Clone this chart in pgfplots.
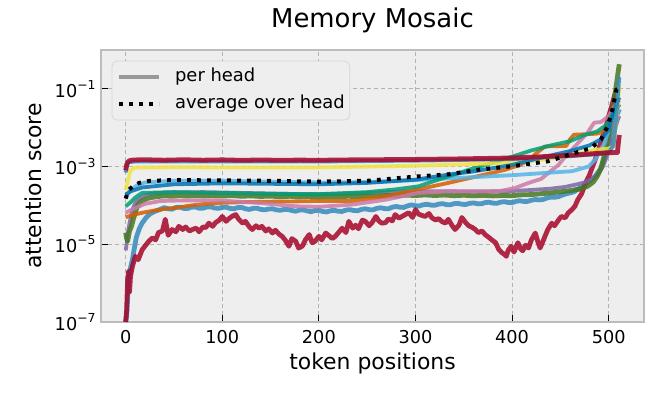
\documentclass[border=0pt]{standalone}
\usepackage{fontspec}
\setmainfont{DejaVu Sans}
\usepackage{pgfplots}
\pgfplotsset{compat=1.18}

\definecolor{bmhBg}{HTML}{EEEEEE}
\definecolor{bmhEdge}{HTML}{BCBCBC}
\definecolor{bmhGrid}{HTML}{B2B2B2}
\definecolor{legEdge}{HTML}{D6D6D6}
\definecolor{legGray}{HTML}{999999}
\definecolor{c0}{HTML}{348ABD}
\definecolor{c1}{HTML}{A60628}
\definecolor{c2}{HTML}{7A68A6}
\definecolor{c3}{HTML}{467821}
\definecolor{c4}{HTML}{D55E00}
\definecolor{c5}{HTML}{CC79A7}
\definecolor{c6}{HTML}{56B4E9}
\definecolor{c7}{HTML}{009E73}
\definecolor{c8}{HTML}{F0E442}
\definecolor{c9}{HTML}{0072B2}

\pgfplotsset{
    head/.style={line width=1.9bp, line join=round, opacity=0.85, forget plot},
    noisy/.style={line width=2.4bp},
    avg/.style={black, line width=2bp, dash pattern=on 1.9bp off 3.1bp, forget plot},
}

\begin{document}
\begin{tikzpicture}
\begin{axis}[
    name=ax,
    scale only axis,
    width=271.5bp, height=136bp,
    xmin=-25.55, xmax=536.55,
    ymode=log, ymin=1e-7, ymax=1,
    xtick={0,100,...,500},
    ytick={1e-7,1e-5,1e-3,1e-1},
    yticklabels={10\textsuperscript{−7},10\textsuperscript{−5},10\textsuperscript{−3},10\textsuperscript{−1}},
    yminorticks=false,
    axis background/.style={fill=bmhBg},
    axis line style={bmhEdge, line width=0.6bp},
    grid=major,
    major grid style={bmhGrid, line width=0.5bp, dash pattern=on 2bp off 1.5bp},
    tick align=inside,
    xtick pos=bottom, ytick pos=left,
    major tick length=3.3bp,
    tick style={black, line width=0.5bp},
    ticklabel style={font=\fontsize{8.9}{10}\selectfont},
    /pgf/number format/assume math mode=true,
    xticklabel style={anchor=base, yshift=-10.5bp},
    yticklabel style={inner xsep=0pt, xshift=-2bp},
    xlabel={token positions},
    xlabel style={font=\fontsize{11}{13}\selectfont, at={(axis description cs:0.5,-0.1728)}, anchor=base},
    ylabel={attention score},
    ylabel style={font=\fontsize{11}{13}\selectfont, at={(axis description cs:-0.1252,0.5)}, anchor=center},
    title={Memory Mosaic},
    title style={font=\fontsize{13}{15}\selectfont, at={(axis description cs:0.5,1.0393)}, anchor=base},
    legend style={at={(0.0197,0.9607)}, anchor=north west, fill=bmhBg, draw=legEdge,
        rounded corners=2.5bp, font=\fontsize{9}{10}\selectfont,
        inner xsep=2.5bp, inner ysep=3.6bp, row sep=4.3bp,
        nodes={inner sep=0pt, text height=6.8bp, text depth=2.2bp},
        /tikz/every odd column/.append style={column sep=7bp},
        cells={anchor=west}},
    legend image code/.code={\draw[#1] (0bp,0bp) -- (20bp,0bp);},
]
% head 0 (steel blue, noisy, low)
\addplot[head, noisy, c0] coordinates {
(0,1e-7)(1,1.5e-7)(2,4e-7)(3,1.3e-6)(5,2.5e-6)(7,4e-6)(9,8e-6)(11,1.5e-5)(14,2.5e-5)(17,3.5e-5)
(21,4.8e-5)(25,6e-5)(30,7e-5)(35,7.8e-5)(40,8.8e-5)(44,8.2e-5)(48,8.0e-5)(52,8.9e-5)(56,9.0e-5)
(60,8.4e-5)(64,8.3e-5)(68,9.0e-5)(72,9.1e-5)(76,8.5e-5)(80,8.5e-5)(84,9.1e-5)(88,9.2e-5)(92,8.6e-5)
(96,8.4e-5)(100,8.9e-5)(104,9.0e-5)(108,8.4e-5)(112,8.2e-5)(116,8.8e-5)(120,8.9e-5)(124,8.2e-5)
(128,7.9e-5)(132,8.4e-5)(136,8.5e-5)(140,7.9e-5)(144,7.7e-5)(148,8.1e-5)(152,8.2e-5)(156,7.7e-5)
(160,7.5e-5)(164,7.9e-5)(168,7.9e-5)(172,7.4e-5)(176,7.1e-5)(180,7.6e-5)(184,7.7e-5)(188,7.2e-5)
(192,6.9e-5)(196,7.4e-5)(200,7.5e-5)(204,7.0e-5)(208,6.8e-5)(212,7.3e-5)(216,7.5e-5)(220,7.1e-5)
(224,7.0e-5)(228,7.6e-5)(232,7.8e-5)(236,7.4e-5)(240,7.3e-5)(244,7.9e-5)(248,8.2e-5)(252,7.8e-5)
(256,7.7e-5)(260,8.4e-5)(264,8.7e-5)(268,8.3e-5)(272,8.2e-5)(276,9.0e-5)(280,9.4e-5)(284,9.0e-5)
(288,8.9e-5)(292,9.8e-5)(296,1.03e-4)(300,9.8e-5)(304,9.7e-5)(308,1.04e-4)(312,1.07e-4)(316,1.02e-4)
(320,1.01e-4)(324,1.08e-4)(328,1.11e-4)(332,1.05e-4)(336,1.04e-4)(340,1.11e-4)(344,1.13e-4)
(348,1.07e-4)(352,1.06e-4)(356,1.13e-4)(360,1.16e-4)(364,1.11e-4)(368,1.1e-4)(372,1.18e-4)
(376,1.21e-4)(380,1.15e-4)(384,1.13e-4)(388,1.21e-4)(392,1.25e-4)(396,1.19e-4)(400,1.18e-4)
(404,1.27e-4)(408,1.32e-4)(412,1.27e-4)(416,1.27e-4)(420,1.36e-4)(424,1.42e-4)(428,1.39e-4)
(432,1.42e-4)(436,1.55e-4)(440,1.64e-4)(444,1.62e-4)(448,1.68e-4)(452,1.85e-4)(456,2.0e-4)
(460,2.1e-4)(464,2.25e-4)(468,2.6e-4)(472,3.0e-4)(476,3.5e-4)(480,4.2e-4)(486,5.6e-4)(492,9e-4)
(497,2e-3)(501,4e-3)(505,1e-2)(508,2e-2)(511,3e-2)
};
% head 1 (crimson, noisy, lowest)
\addplot[head, noisy, c1] coordinates {
(0,1e-7)(1,2e-7)(2,1.2e-6)(3,2e-6)(4,6e-7)(5,1.5e-6)(7,2.7e-6)(10,4.9e-6)(13,4e-6)(17,7.2e-6)
(20,9e-6)(24,1.2e-5)(27.5,1.45e-5)(31,1.3e-5)(34,2e-5)(38,2.2e-5)(41,4.4e-5)(44,1.7e-5)(48,2.4e-5)
(52,2.1e-5)(55,2.9e-5)(59,2.4e-5)(62,2.8e-5)(66,2.2e-5)(69,2.4e-5)(73,2.6e-5)(76,2.1e-5)(80,2.8e-5)
(83,2.7e-5)(86,3.5e-5)(90,2.9e-5)(93,3.6e-5)(97,4.2e-5)(100,5.2e-5)(104,3.9e-5)(107,4.6e-5)
(111,5.4e-5)(114,5.8e-5)(117,4.4e-5)(121,3.5e-5)(124,3.9e-5)(128,2.8e-5)(131,2.4e-5)(135,3.0e-5)
(138,2.6e-5)(141,2.9e-5)(145,2.2e-5)(148,2.5e-5)(152,1.95e-5)(155,2.3e-5)(159,1.8e-5)(162,1.6e-5)
(165,1.3e-5)(169,8.9e-6)(172,1.4e-5)(176,1.2e-5)(179,8e-6)(183,9e-6)(186,1.3e-5)(190,1.78e-5)
(193,1.1e-5)(196,1.2e-5)(200,1.6e-5)(203,1.3e-5)(207,1.95e-5)(210,1.7e-5)(214,1.4e-5)(217,1.6e-5)
(221,2.1e-5)(224,2.6e-5)(228,2.0e-5)(231,3.9e-5)(235,2.6e-5)(238,3.1e-5)(241,2.5e-5)(245,4.2e-5)
(248,3.9e-5)(252,3.0e-5)(255,3.6e-5)(259,5.2e-5)(262,4.0e-5)(265,3.5e-5)(269,3.6e-5)(272,4.5e-5)
(276,4.0e-5)(279,5.8e-5)(283,4.7e-5)(286,5.2e-5)(290,5.9e-5)(293,6.5e-5)(297,4.9e-5)(300,7.8e-5)
(303,6.0e-5)(307,5.5e-5)(310,5.2e-5)(314,6.2e-5)(317,4.8e-5)(321,4.2e-5)(324,4.6e-5)(327,3.9e-5)
(331,3.5e-5)(334,4.4e-5)(338,3.0e-5)(341,2.4e-5)(345,3.1e-5)(348,4.9e-5)(352,3.6e-5)(355,3.0e-5)
(359,2.7e-5)(362,2.4e-5)(365,2.0e-5)(369,2.2e-5)(372,1.78e-5)(376,1.5e-5)(379,1.3e-5)(383,1.1e-5)
(386,7.5e-6)(389,6.2e-6)(392,5.5e-6)(394,4.9e-6)(396,7e-6)(399,8.9e-6)(402,6.3e-6)(406,1.1e-5)
(409,7.5e-6)(411,6.8e-6)(414,9.5e-6)(417,8e-6)(420,1.3e-5)(424,1.95e-5)(427,1.1e-5)(429,8e-6)
(432,1.2e-5)(434,1.6e-5)(437,2.4e-5)(441,3.5e-5)(444,3.0e-5)(448,4.2e-5)(451,5.2e-5)(455,4.8e-5)
(458,6.4e-5)(462,7.8e-5)(465,9.5e-5)(468,1.4e-4)(472,2e-4)(476,3.8e-4)(480,6e-4)(486,1.5e-3)
(490,3e-3)(493,5e-3)(497,1e-2)(500,2e-2)(503,3.5e-2)(505,5.4e-2)(507,8e-2)(511,0.1)
};
% head 2 (purple)
\addplot[head, c2] coordinates {
(0,7e-6)(1,1e-5)(2,1.8e-5)(4,3.5e-5)(6,6e-5)(8,9e-5)(10,1.15e-4)(13,1.4e-4)(16,1.6e-4)(20,1.8e-4)
(25,1.95e-4)(30,2.05e-4)(40,2.15e-4)(50,2.2e-4)(60,2.18e-4)(80,2.2e-4)(100,2.15e-4)(120,2.1e-4)
(140,2.05e-4)(160,2.0e-4)(180,1.95e-4)(200,1.95e-4)(220,1.98e-4)(240,2.05e-4)(260,2.15e-4)
(280,2.25e-4)(300,2.3e-4)(320,2.32e-4)(340,2.3e-4)(360,2.28e-4)(380,2.3e-4)(400,2.35e-4)
(420,2.5e-4)(440,2.7e-4)(455,3.0e-4)(465,3.4e-4)(475,3.9e-4)(483,4.8e-4)(489,6.5e-4)(494,1e-3)
(498,1.8e-3)(502,3.5e-3)(506,8e-3)(509,1.5e-2)(511,2e-2)
};
% head 3 (green)
\addplot[head, noisy, c3] coordinates {
(0,2e-5)(1,1.4e-5)(2,1.2e-5)(4,2.2e-5)(6,2.9e-5)(8,4.5e-5)(10,6.5e-5)(12,9.5e-5)(14,1.15e-4)
(17,1.3e-4)(20,1.42e-4)(24,1.55e-4)(28,1.62e-4)(34,1.7e-4)(40,1.76e-4)(48,1.72e-4)(56,1.8e-4)
(64,1.75e-4)(72,1.82e-4)(80,1.76e-4)(90,1.8e-4)(100,1.74e-4)(110,1.79e-4)(120,1.72e-4)(130,1.76e-4)
(140,1.7e-4)(150,1.74e-4)(160,1.67e-4)(170,1.72e-4)(180,1.66e-4)(190,1.7e-4)(200,1.65e-4)
(210,1.7e-4)(220,1.66e-4)(230,1.72e-4)(240,1.69e-4)(250,1.76e-4)(260,1.74e-4)(270,1.8e-4)
(280,1.76e-4)(290,1.84e-4)(300,1.8e-4)(310,1.86e-4)(320,1.8e-4)(330,1.85e-4)(340,1.78e-4)
(350,1.83e-4)(360,1.77e-4)(370,1.82e-4)(380,1.76e-4)(390,1.8e-4)(400,1.78e-4)(410,1.88e-4)
(420,1.9e-4)(430,2.0e-4)(440,2.1e-4)(450,2.25e-4)(460,2.4e-4)(470,2.65e-4)(478,3.1e-4)(484,4e-4)
(488,5.5e-4)(492,9e-4)(496,2.2e-3)(499,5e-3)(502,1.3e-2)(505,4e-2)(508,1.3e-1)(510,3e-1)(511,4.3e-1)
};
% head 4 (orange)
\addplot[head, c4] coordinates {
(0,5e-5)(5,5.4e-5)(10,5.9e-5)(20,6.7e-5)(30,7.4e-5)(40,8.1e-5)(52,8.7e-5)(65,9.8e-5)(80,1.08e-4)
(100,1.17e-4)(125,1.22e-4)(150,1.25e-4)(175,1.27e-4)(200,1.3e-4)(234,1.3e-4)(269,1.7e-4)(303,2.6e-4)
(334,3.8e-4)(358,5.2e-4)(375,6.5e-4)(393,8.3e-4)(408,1.1e-3)(418,1.5e-3)(426,2.3e-3)(434,3.3e-3)
(456,3.4e-3)(460,5e-3)(464,6.6e-3)(487,7e-3)(497,8e-3)(503,1.2e-2)(507,2.5e-2)(511,4e-2)
};
% head 5 (pink)
\addplot[head, c5] coordinates {
(0,6.5e-5)(5,7.5e-5)(12,9e-5)(20,1.1e-4)(36,1.3e-4)(60,1.35e-4)(96,1.35e-4)(140,1.15e-4)(176,9.5e-5)
(200,9.2e-5)(234,1.05e-4)(269,1.4e-4)(303,2.1e-4)(334,2.3e-4)(386,2.3e-4)(403,2.8e-4)(417,3.8e-4)
(430,4.8e-4)(441,8e-4)(448,1.1e-3)(455,1.8e-3)(466,3.5e-3)(478,7.4e-3)(485,1.35e-2)(492,1.4e-2)
(500,2e-2)(506,3.5e-2)(511,5e-2)
};
% head 6 (light blue)
\addplot[head, c6] coordinates {
(0,1.6e-4)(5,2.5e-4)(12,3.3e-4)(20,3.9e-4)(50,4.3e-4)(100,4.3e-4)(150,4.1e-4)(200,3.9e-4)(250,4.0e-4)
(300,4.5e-4)(350,5.2e-4)(400,6e-4)(440,7e-4)(462,7.6e-4)(479,1e-3)(486,1.5e-3)(496,4.2e-3)
(501,1.1e-2)(505,2e-2)(509,2.5e-2)(511,3e-2)
};
% head 7 (teal)
\addplot[head, c7] coordinates {
(0,9.5e-5)(5,1.2e-4)(10,1.6e-4)(17,2.1e-4)(50,2.2e-4)(100,2.1e-4)(150,2e-4)(200,1.95e-4)(250,2.2e-4)
(280,2.6e-4)(303,3.1e-4)(334,5.6e-4)(360,9e-4)(380,1.25e-3)(400,1.8e-3)(420,2.6e-3)(440,3.5e-3)
(460,4.5e-3)(475,6.5e-3)(488,8e-3)(498,1.2e-2)(505,2.5e-2)(511,4e-2)
};
% head 8 (yellow)
\addplot[head, c8] coordinates {
(0,2.5e-4)(2,4e-4)(5,8e-4)(10,9.4e-4)(50,9.6e-4)(100,9.5e-4)(200,9.5e-4)(300,1.05e-3)(400,1.25e-3)
(450,1.7e-3)(486,2.7e-3)(500,2.9e-3)(505,3.3e-3)(507,1e-2)(509,3e-2)(511,0.12)
};
% head 9 (dark blue)
\addplot[head, c9] coordinates {
(0,1.9e-4)(5,2.3e-4)(17,2.9e-4)(50,3.5e-4)(100,3.7e-4)(150,3.6e-4)(200,3.5e-4)(250,3.8e-4)(300,4.6e-4)
(334,6.2e-4)(360,7.5e-4)(400,1.1e-3)(430,1.7e-3)(460,2.5e-3)(480,3.5e-3)(492,5e-3)(500,9e-3)
(506,3e-2)(511,6e-2)
};
% head 10 (steel blue, just under the top crimson)
\addplot[head, c0] coordinates {
(0,7e-4)(1,1e-3)(2,1.2e-3)(4,1.3e-3)(10,1.35e-3)(100,1.35e-3)(200,1.35e-3)(300,1.42e-3)(400,1.55e-3)
(460,1.85e-3)(490,2.1e-3)(500,2.3e-3)(505,3.5e-3)(508,2e-2)(510,0.1)(511,0.2)
};
% head 11 (crimson, top flat)
\addplot[head, noisy, c1] coordinates {
(0,8e-4)(1,1.1e-3)(2,1.3e-3)(4,1.42e-3)(8,1.48e-3)(20,1.5e-3)(40,1.46e-3)(60,1.5e-3)(80,1.46e-3)
(100,1.49e-3)(120,1.45e-3)(140,1.48e-3)(160,1.45e-3)(180,1.47e-3)(200,1.45e-3)(220,1.48e-3)
(240,1.49e-3)(260,1.5e-3)(280,1.52e-3)(300,1.53e-3)(320,1.55e-3)(340,1.57e-3)(360,1.6e-3)
(380,1.63e-3)(400,1.67e-3)(420,1.74e-3)(440,1.84e-3)(460,1.95e-3)(475,2.07e-3)(490,2.2e-3)
(500,2.28e-3)(509,2.3e-3)(510,4e-3)(511,6.5e-3)
};
% average over heads
\addplot[avg] coordinates {
(0,1.5e-4)(3,2.5e-4)(8,3.2e-4)(14,3.8e-4)(25,4.3e-4)(50,4.5e-4)(100,4.4e-4)(150,4.3e-4)(200,4.1e-4)
(250,4.3e-4)(303,5.6e-4)(334,6.3e-4)(365,8.3e-4)(400,1.02e-3)(438,1.38e-3)(465,2.24e-3)(482,3e-3)
(492,5e-3)(499,1.1e-2)(504,3e-2)(508,9.5e-2)(510,0.1)
};
\addlegendimage{legGray, line width=2bp}
\addlegendentry{per head}
\addlegendimage{black, line width=2bp, dash pattern=on 1.9bp off 3.1bp}
\addlegendentry{average over head}
\end{axis}
\pgfresetboundingbox
\path[use as bounding box] ([xshift=-50.5bp,yshift=-38.5bp]ax.south west) rectangle ([xshift=10bp,yshift=25bp]ax.north east);
\end{tikzpicture}
\end{document}
